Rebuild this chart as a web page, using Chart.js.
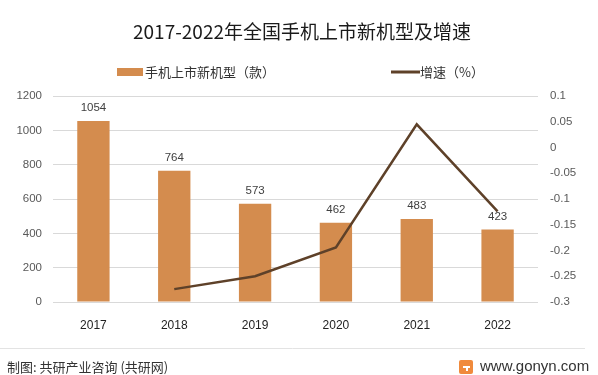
<!DOCTYPE html>
<html>
<head>
<meta charset="utf-8">
<script src="https://cdn.jsdelivr.net/npm/chart.js@4.4.1/dist/chart.umd.min.js"></script>
<style>
  html, body { margin: 0; padding: 0; background: #fff; }
  #wrap { width: 598px; height: 375px; position: relative; }
</style>
</head>
<body>
<div id="wrap"><canvas id="chart" width="598" height="375"></canvas></div>
<script>
// chart data
const years = ['2017', '2018', '2019', '2020', '2021', '2022'];
const newModels = [1054, 764, 573, 462, 483, 423];
const growth = [null, -0.275, -0.25, -0.194, 0.045, -0.124];
const leftTicks = [0, 200, 400, 600, 800, 1000, 1200];
const rightTicks = [-0.3, -0.25, -0.2, -0.15, -0.1, -0.05, 0, 0.05, 0.1];

const titleText = '2017-2022年全国手机上市新机型及增速';
const barLabel = '手机上市新机型（款）';
const lineLabel = '增速（%）';
const sourceText = '制图: 共研产业咨询 (共研网)';
const siteText = 'www.gonyn.com';

const BAR_COLOR = '#d48c4e';
const LINE_COLOR = '#5e4129';
const FONT = '"Noto Sans CJK SC", "Noto Sans", sans-serif';

// title, legend, bar values and footer
const decorPlugin = {
    id: 'decor',
    afterDraw(chart) {
        const ctx = chart.ctx;
        ctx.save();

        // title
        ctx.fillStyle = '#1a1a1a';
        ctx.font = '19px ' + FONT;
        ctx.textAlign = 'center';
        ctx.textBaseline = 'middle';
        ctx.fillText(titleText, 302, 32);

        // legend
        ctx.font = '13px ' + FONT;
        ctx.textAlign = 'left';
        ctx.fillStyle = BAR_COLOR;
        ctx.fillRect(117, 68, 26, 8);
        ctx.fillStyle = '#333';
        ctx.fillText(barLabel, 145, 72);
        ctx.strokeStyle = LINE_COLOR;
        ctx.lineWidth = 3;
        ctx.beginPath();
        ctx.moveTo(391, 72);
        ctx.lineTo(420, 72);
        ctx.stroke();
        ctx.fillText(lineLabel, 420, 72);

        // bar value labels
        const meta = chart.getDatasetMeta(1);
        ctx.font = '11.5px "Liberation Sans", Arial, sans-serif';
        ctx.fillStyle = '#404040';
        ctx.textAlign = 'center';
        meta.data.forEach((bar, i) => {
            ctx.fillText(String(newModels[i]), bar.x, bar.y - 13);
        });

        // footer
        ctx.strokeStyle = '#e3e3e3';
        ctx.lineWidth = 1;
        ctx.beginPath();
        ctx.moveTo(0, 348.5);
        ctx.lineTo(585, 348.5);
        ctx.stroke();

        ctx.font = '13px ' + FONT;
        ctx.fillStyle = '#333';
        ctx.textAlign = 'left';
        ctx.fillText(sourceText, 7, 367);

        // small logo
        ctx.fillStyle = '#f08a3c';
        ctx.beginPath();
        ctx.roundRect(459, 360, 14, 14, 2);
        ctx.fill();
        ctx.fillStyle = '#fff';
        ctx.fillRect(463, 366, 7, 2);
        ctx.fillRect(466, 366, 2, 5);

        ctx.font = '15px "Liberation Sans", Arial, sans-serif';
        ctx.fillStyle = '#333';
        ctx.fillText(siteText, 480, 367);

        ctx.restore();
    }
};

new Chart(document.getElementById('chart'), {
    data: {
        labels: years,
        datasets: [
            {
                type: 'line',
                label: lineLabel,
                data: growth,
                yAxisID: 'y1',
                borderColor: LINE_COLOR,
                borderWidth: 2.5,
                pointRadius: 0,
                tension: 0,
                order: 0
            },
            {
                type: 'bar',
                label: barLabel,
                data: newModels,
                yAxisID: 'y',
                backgroundColor: BAR_COLOR,
                barPercentage: 0.4,
                categoryPercentage: 1,
                order: 1
            }
        ]
    },
    options: {
        responsive: false,
        animation: false,
        layout: { padding: { top: 96, bottom: 33, left: 0, right: 0 } },
        plugins: {
            legend: { display: false },
            title: { display: false },
            tooltip: { enabled: false }
        },
        scales: {
            x: {
                grid: { display: false },
                border: { display: false },
                ticks: { color: '#222', padding: 8, font: { size: 12, family: '"Liberation Sans", Arial, sans-serif' } },
                afterFit: s => { s.height = 40; }
            },
            y: {
                position: 'left',
                min: 0,
                max: 1200,
                afterBuildTicks: s => { s.ticks = leftTicks.map(v => ({ value: v })); },
                grid: { color: '#d9d9d9', drawTicks: false },
                border: { display: false },
                ticks: {
                    color: '#595959',
                    padding: 11,
                    font: { size: 11.5, family: '"Liberation Sans", Arial, sans-serif' },
                    callback: v => String(v)
                },
                afterFit: s => { s.width = 53; }
            },
            y1: {
                position: 'right',
                min: -0.3,
                max: 0.1,
                afterBuildTicks: s => { s.ticks = rightTicks.map(v => ({ value: v })); },
                grid: { display: false, drawTicks: false },
                border: { display: false },
                ticks: {
                    color: '#595959',
                    padding: 12,
                    font: { size: 11.5, family: '"Liberation Sans", Arial, sans-serif' },
                    callback: v => String(Math.round(v * 100) / 100)
                },
                afterFit: s => { s.width = 60; }
            }
        }
    },
    plugins: [decorPlugin]
});
</script>
</body>
</html>
